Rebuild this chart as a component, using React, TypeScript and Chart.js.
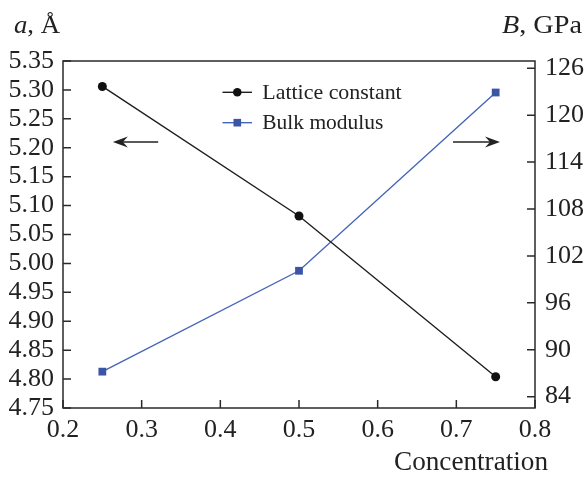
import React, { useEffect, useRef } from "react";
import { Chart, registerables } from "chart.js";

Chart.register(...registerables);

// ---- data ----
const concentration = [0.25, 0.5, 0.75];
const latticeConstant = [5.306, 5.082, 4.804];
const bulkModulus = [87.2, 100.1, 122.9];

const xTicks = [0.2, 0.3, 0.4, 0.5, 0.6, 0.7, 0.8];
const leftTicks = [4.75, 4.8, 4.85, 4.9, 4.95, 5.0, 5.05, 5.1, 5.15, 5.2, 5.25, 5.3, 5.35];
const rightTicks = [84, 90, 96, 102, 108, 114, 120, 126];

const seriesLabels = ["Lattice constant", "Bulk modulus"];
const xTitle = "Concentration";

const FONT = "'Liberation Serif', 'Times New Roman', serif";
const INK = "#222";
const BLUE_LINE = "#4565b8";
const BLUE_FILL = "#3b55a6";

function drawStretched(ctx: CanvasRenderingContext2D, parts: { t: string; italic?: boolean }[], x: number, y: number, size: number, targetWidth: number, align: "left" | "right") {
  ctx.save();
  let total = 0;
  const widths = parts.map((p) => {
    ctx.font = `${p.italic ? "italic " : ""}${size}px ${FONT}`;
    const w = ctx.measureText(p.t).width;
    total += w;
    return w;
  });
  const sx = targetWidth / total;
  const startX = align === "left" ? x : x - targetWidth;
  ctx.translate(startX, y);
  ctx.scale(sx, 1);
  ctx.fillStyle = INK;
  ctx.textBaseline = "alphabetic";
  ctx.textAlign = "left";
  let cx = 0;
  parts.forEach((p, i) => {
    ctx.font = `${p.italic ? "italic " : ""}${size}px ${FONT}`;
    ctx.fillText(p.t, cx, 0);
    cx += widths[i];
  });
  ctx.restore();
}

function arrow(ctx: CanvasRenderingContext2D, x1: number, x2: number, y: number) {
  const dir = Math.sign(x2 - x1);
  ctx.save();
  ctx.strokeStyle = INK;
  ctx.fillStyle = INK;
  ctx.lineWidth = 1.6;
  ctx.beginPath();
  ctx.moveTo(x1, y);
  ctx.lineTo(x2 - dir * 8, y);
  ctx.stroke();
  ctx.beginPath();
  ctx.moveTo(x2, y);
  ctx.lineTo(x2 - dir * 15, y - 5.5);
  ctx.lineTo(x2 - dir * 10, y);
  ctx.lineTo(x2 - dir * 15, y + 5.5);
  ctx.closePath();
  ctx.fill();
  ctx.restore();
}

const framePlugin = {
  id: "frameAndTicks",
  beforeDatasetsDraw(chart: any) {
    const { ctx, chartArea: a, scales } = chart;
    ctx.save();
    ctx.strokeStyle = "#2a2a2a";
    ctx.lineWidth = 1.5;
    ctx.strokeRect(a.left, a.top, a.right - a.left, a.bottom - a.top);
    const L = 8;
    ctx.beginPath();
    xTicks.forEach((v) => {
      const px = scales.x.getPixelForValue(v);
      ctx.moveTo(px, a.bottom);
      ctx.lineTo(px, a.bottom - L);
    });
    leftTicks.forEach((v) => {
      const py = scales.y.getPixelForValue(v);
      ctx.moveTo(a.left, py);
      ctx.lineTo(a.left + L, py);
    });
    rightTicks.forEach((v) => {
      const py = scales.y2.getPixelForValue(v);
      ctx.moveTo(a.right, py);
      ctx.lineTo(a.right - L, py);
    });
    ctx.stroke();
    ctx.restore();
  },
  afterDraw(chart: any) {
    const { ctx, chartArea: a, scales } = chart;
    // arrows
    const ay = scales.y.getPixelForValue(5.21);
    arrow(ctx, scales.x.getPixelForValue(0.321), scales.x.getPixelForValue(0.2634), ay);
    arrow(ctx, scales.x.getPixelForValue(0.6958), scales.x.getPixelForValue(0.7555), ay);

    // legend
    const ds = chart.data.datasets;
    const rows = [92.3, 122.7];
    ds.forEach((d: any, i: number) => {
      const y = rows[i];
      ctx.save();
      ctx.strokeStyle = d.borderColor;
      ctx.lineWidth = d.borderWidth;
      ctx.beginPath();
      ctx.moveTo(222.5, y);
      ctx.lineTo(252, y);
      ctx.stroke();
      ctx.fillStyle = d.pointBackgroundColor;
      if (d.pointStyle === "rect") {
        ctx.fillRect(237.3 - 3.8, y - 3.8, 7.6, 7.6);
      } else {
        ctx.beginPath();
        ctx.arc(237.3, y, 4.3, 0, Math.PI * 2);
        ctx.fill();
      }
      ctx.restore();
    });
    drawStretched(ctx, [{ t: ds[0].label }], 262.3, 99, 22, 139.4, "left");
    drawStretched(ctx, [{ t: ds[1].label }], 262.3, 129, 22, 121, "left");

    // axis titles
    drawStretched(ctx, [{ t: "a", italic: true }, { t: ", Å" }], 14, 32.5, 25, 46, "left");
    drawStretched(ctx, [{ t: "B", italic: true }, { t: ", GPa" }], 582, 32.5, 25, 80, "right");
    drawStretched(ctx, [{ t: xTitle }], a.right + 13, 470, 27, 154, "right");
  },
};

export default function App() {
  const ref = useRef<HTMLCanvasElement | null>(null);
  useEffect(() => {
    if (!ref.current) return;
    const tickFont = { family: FONT, size: 26 };
    const chart = new Chart(ref.current, {
      type: "line",
      data: {
        datasets: [
          {
            label: seriesLabels[0],
            data: concentration.map((c, i) => ({ x: c, y: latticeConstant[i] })),
            yAxisID: "y",
            borderColor: "#1e1e1e",
            borderWidth: 1.4,
            pointStyle: "circle",
            pointRadius: 4.5,
            pointBackgroundColor: "#111",
            pointBorderColor: "#111",
            pointBorderWidth: 0,
            tension: 0,
          },
          {
            label: seriesLabels[1],
            data: concentration.map((c, i) => ({ x: c, y: bulkModulus[i] })),
            yAxisID: "y2",
            borderColor: BLUE_LINE,
            borderWidth: 1.4,
            pointStyle: "rect",
            pointRadius: 5.5,
            pointBackgroundColor: BLUE_FILL,
            pointBorderColor: BLUE_FILL,
            pointBorderWidth: 0,
            tension: 0,
          },
        ],
      },
      options: {
        animation: false,
        responsive: false,
        devicePixelRatio: 1,
        layout: { padding: { top: 61, left: 0, right: 0, bottom: 0 } },
        plugins: { legend: { display: false }, tooltip: { enabled: false } },
        scales: {
          x: {
            type: "linear",
            min: 0.2,
            max: 0.8,
            grid: { display: false, drawTicks: false },
            border: { display: false },
            afterBuildTicks: (s: any) => { s.ticks = xTicks.map((v) => ({ value: v })); },
            afterFit: (s: any) => { s.height = 69; },
            ticks: { font: tickFont, color: INK, padding: 7, autoSkip: false, maxRotation: 0, callback: (v: any) => Number(v).toFixed(1) },
          },
          y: {
            type: "linear",
            position: "left",
            min: 4.75,
            max: 5.35,
            grid: { display: false, drawTicks: false },
            border: { display: false },
            afterBuildTicks: (s: any) => { s.ticks = leftTicks.map((v) => ({ value: v })); },
            afterFit: (s: any) => { s.width = 63; },
            ticks: { font: tickFont, color: INK, padding: 9, autoSkip: false, callback: (v: any) => Number(v).toFixed(2) },
          },
          y2: {
            type: "linear",
            position: "right",
            min: 82.55,
            max: 126.93,
            grid: { display: false, drawTicks: false },
            border: { display: false },
            afterBuildTicks: (s: any) => { s.ticks = rightTicks.map((v) => ({ value: v })); },
            afterFit: (s: any) => { s.width = 50; },
            ticks: { font: tickFont, color: INK, padding: 10, autoSkip: false, callback: (v: any) => String(v) },
          },
        },
      },
      plugins: [framePlugin],
    } as any);
    return () => chart.destroy();
  }, []);
  return (
    <div style={{ position: "absolute", left: 0, top: 0, width: 585, height: 477, background: "#fff" }}>
      <canvas ref={ref} width={585} height={477} style={{ display: "block" }} />
    </div>
  );
}
